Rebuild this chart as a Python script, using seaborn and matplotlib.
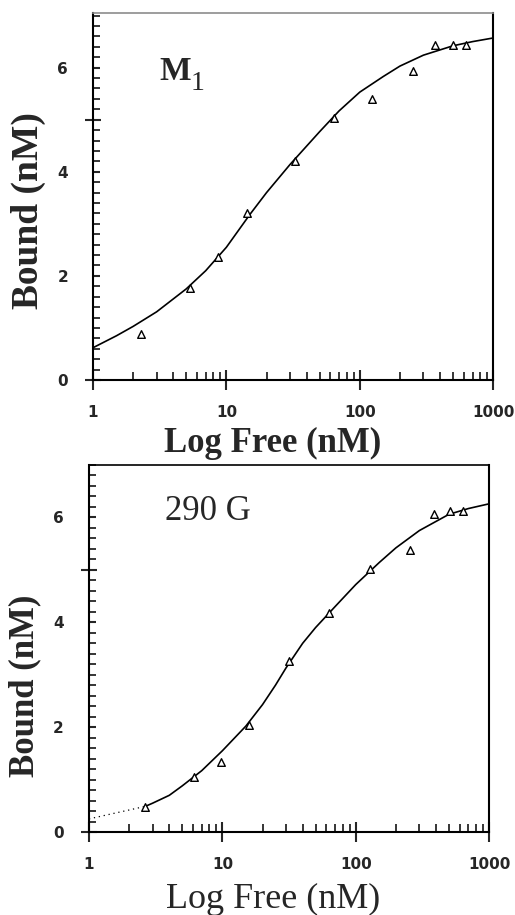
import numpy as np
import pandas as pd
import matplotlib
matplotlib.use("Agg")
import matplotlib.pyplot as plt
import matplotlib.ticker as mticker
import seaborn as sns

m1_free = [2.29, 5.34, 8.7, 14.2, 32.7, 63.6, 123, 250, 368, 499, 629]
m1_bound = [0.88, 1.77, 2.36, 3.2, 4.2, 5.03, 5.4, 5.93, 6.44, 6.44, 6.44]

m1_fit_free = [1, 1.5, 2, 3, 5, 7, 10, 15, 20, 30, 50, 70, 100, 150, 200, 300, 500, 700, 1000]
m1_fit_bound = [0.62, 0.85, 1.03, 1.31, 1.75, 2.1, 2.55, 3.18, 3.6, 4.14, 4.77, 5.17,
                5.53, 5.83, 6.03, 6.24, 6.42, 6.5, 6.57]

# ---- 290 G panel
g290_free = [2.65, 6.13, 9.84, 15.8, 31.6, 63.1, 128, 255, 385, 508, 640]
g290_bound = [0.47, 1.05, 1.34, 2.05, 3.26, 4.18, 5.02, 5.38, 6.07, 6.12, 6.12]

g290_dot_free = [1, 1.5, 2, 2.65]
g290_dot_bound = [0.25, 0.35, 0.42, 0.49]
g290_fit_free = [2.65, 3, 4, 5, 7, 10, 15, 20, 25, 30, 40, 50, 70, 100, 150, 200, 300,
                 500, 700, 1000]
g290_fit_bound = [0.49, 0.55, 0.7, 0.88, 1.17, 1.55, 2.02, 2.43, 2.8, 3.13, 3.6, 3.9,
                  4.3, 4.72, 5.14, 5.42, 5.75, 6.06, 6.17, 6.26]

x_ticks = [1, 10, 100, 1000]
x_tick_labels = ["1", "10", "100", "1000"]
y_ticks = [0, 2, 4, 5, 6]
y_tick_labels = ["0", "2", "4", "", "6"]
cross_ticks = [0, 5]

sns.set_style("ticks")
plt.rcParams["font.family"] = ["DejaVu Sans"]

fig = plt.figure(figsize=(5.15, 9.15), dpi=100)
ax_top = fig.add_axes([0.1806, 0.5847, 0.777, 0.4011])
ax_bot = fig.add_axes([0.1728, 0.0907, 0.777, 0.4011])

serif = "Liberation Serif"


def style_axis(ax, ytop, top_color):
    ax.set_xscale("log")
    ax.set_xlim(1, 1000)
    ax.set_ylim(0, ytop)
    ax.set_xticks(x_ticks)
    ax.set_xticklabels(x_tick_labels)
    ax.xaxis.set_minor_locator(mticker.LogLocator(base=10, subs=range(2, 10)))
    ax.xaxis.set_minor_formatter(mticker.NullFormatter())
    ax.set_yticks(y_ticks)
    ax.set_yticklabels(y_tick_labels)
    ax.yaxis.set_minor_locator(mticker.MultipleLocator(0.2))
    ax.tick_params(axis="x", which="major", direction="inout", length=14, width=1.5,
                   pad=11, labelsize=11)
    ax.tick_params(axis="x", which="minor", direction="in", length=5.5, width=1.3)
    ax.tick_params(axis="y", which="major", direction="in", length=5, width=1.5,
                   pad=18, labelsize=11)
    ax.tick_params(axis="y", which="minor", direction="in", length=5, width=1.3)
    for lab in ax.get_xticklabels() + ax.get_yticklabels():
        lab.set_fontweight("bold")
    # the 0 and 5 ticks cross the axis line
    for tick, loc in zip(ax.yaxis.get_major_ticks(), y_ticks):
        if loc in cross_ticks:
            tick.tick1line.set_marker("_")
            tick.tick1line.set_markersize(11)
    for side in ["left", "bottom", "right"]:
        ax.spines[side].set_visible(True)
        ax.spines[side].set_linewidth(1.5)
        ax.spines[side].set_color("black")
    ax.spines["top"].set_visible(True)
    ax.spines["top"].set_linewidth(1.2)
    ax.spines["top"].set_color(top_color)
    ax.set_xlabel("")
    ax.set_ylabel("")


# top panel
sns.lineplot(x=m1_fit_free, y=m1_fit_bound, ax=ax_top, color="black", linewidth=1.2,
             estimator=None, sort=True)
sns.scatterplot(x=m1_free, y=m1_bound, ax=ax_top, marker="^", s=30,
                facecolor="white", edgecolor="black", linewidth=1.0, zorder=3)
style_axis(ax_top, 7.05, "0.55")
ax_top.text(0.165, 0.817, "M", transform=ax_top.transAxes, family=serif,
            fontweight="bold", fontsize=24, ha="left", va="baseline")
ax_top.text(0.245, 0.790, "1", transform=ax_top.transAxes, family=serif,
            fontsize=20, ha="left", va="baseline")
ax_top.text(-0.1625, 0.463, "Bound (nM)", transform=ax_top.transAxes, family=serif,
            fontweight="bold", fontsize=27, rotation=90, ha="center", va="center")
ax_top.text(0.449, -0.196, "Log Free (nM)", transform=ax_top.transAxes, family=serif,
            fontweight="bold", fontsize=25, ha="center", va="baseline")

# bottom panel
sns.lineplot(x=g290_dot_free, y=g290_dot_bound, ax=ax_bot, color="black", linewidth=0.9,
             linestyle=(0, (1, 3)), estimator=None, sort=True)
sns.lineplot(x=g290_fit_free, y=g290_fit_bound, ax=ax_bot, color="black", linewidth=1.2,
             estimator=None, sort=True)
sns.scatterplot(x=g290_free, y=g290_bound, ax=ax_bot, marker="^", s=30,
                facecolor="white", edgecolor="black", linewidth=1.0, zorder=3)
style_axis(ax_bot, 7.0, "black")
ax_bot.text(0.19, 0.85, "290 G", transform=ax_bot.transAxes, family=serif,
            fontsize=25, ha="left", va="baseline")
ax_bot.text(-0.161, 0.398, "Bound (nM)", transform=ax_bot.transAxes, family=serif,
            fontweight="bold", fontsize=25, rotation=90, ha="center", va="center")
ax_bot.text(0.461, -0.207, "Log Free (nM)", transform=ax_bot.transAxes, family=serif,
            fontsize=26, ha="center", va="baseline")

fig.savefig("out.png", dpi=100)
